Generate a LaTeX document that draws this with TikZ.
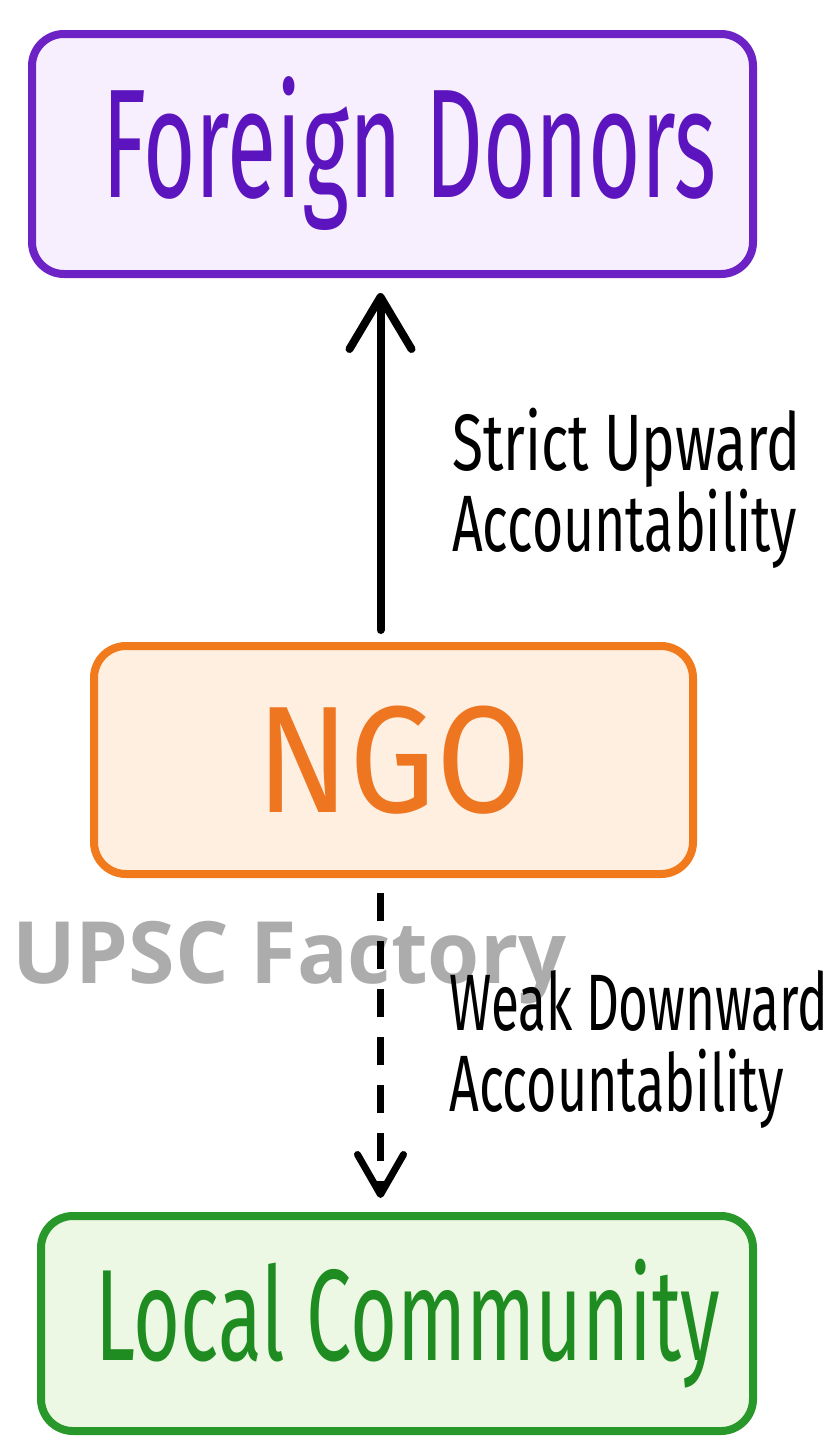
\documentclass[tikz,border=0pt]{standalone}
\usepackage{fontspec}
\usepackage{graphicx}
\usetikzlibrary{arrows.meta}
\newfontfamily\handfont{Fira Sans}
\newfontfamily\markfont{Open Sans}
\definecolor{donorline}{RGB}{108,34,196}
\definecolor{donorfill}{RGB}{247,239,253}
\definecolor{donortext}{RGB}{92,20,190}
\definecolor{ngoline}{RGB}{240,122,28}
\definecolor{ngofill}{RGB}{255,239,225}
\definecolor{ngotext}{RGB}{238,118,33}
\definecolor{commline}{RGB}{40,152,42}
\definecolor{commfill}{RGB}{236,248,228}
\definecolor{commtext}{RGB}{30,140,32}
\definecolor{markgray}{RGB}{172,172,172}
\newcommand{\squeeze}[2]{\scalebox{#1}[1]{#2}}
\tikzset{
  actorbox/.style={draw, line width=8pt, rounded corners=32pt, inner sep=0pt},
  flowlabel/.style={anchor=west, inner sep=0pt, align=left, font=\handfont\fontsize{80}{81}\selectfont},
  upflow/.style={line width=8pt, line cap=round, -{Straight Barb[length=52pt,width=62pt,round]}},
  downflow/.style={line width=7pt, dash pattern=on 28pt off 20pt, -{Straight Barb[length=40pt,width=46pt,round]}}
}
\begin{document}
\begin{tikzpicture}[x=1pt,y=1pt,yscale=-1]
\useasboundingbox (0,0) rectangle (834,1454);

% Boxes
\node [actorbox, draw=donorline, fill=donorfill, minimum width=721pt, minimum height=240pt,
  text=donortext, font=\handfont\fontsize{155}{155}\selectfont] (donors) at (392.5,154) {\hspace*{34pt}\squeeze{0.58}{Foreign Donors}};
\node [actorbox, draw=ngoline, fill=ngofill, minimum width=599pt, minimum height=228pt,
  text=ngotext, font=\handfont\fontsize{152}{152}\selectfont] (ngo) at (393.5,760) {\squeeze{0.9}{NGO}};
\node [actorbox, draw=commline, fill=commfill, minimum width=712pt, minimum height=215pt,
  text=commtext, font=\handfont\fontsize{130}{130}\selectfont] (community) at (397,1323.5) {\hspace*{22pt}\squeeze{0.62}{Local Community}};

% Watermark
\node [anchor=base west, inner sep=0pt, text=markgray, font=\markfont\bfseries\fontsize{86}{86}\selectfont] (mark) at (12,983) {\squeeze{0.98}{UPSC Factory}};

% Arrows
\draw [upflow, shorten <=12pt, shorten >=15pt] ([xshift=-13pt]ngo.north) -- ([xshift=-13pt]ngo.north |- donors.south);
\draw [downflow, shorten <=15pt, shorten >=14pt] ([xshift=-13pt]ngo.south) -- ([xshift=-13pt]ngo.south |- community.north);

% Text Node
\node [flowlabel] (uplabel) at (452,488) {\squeeze{0.71}{Strict Upward}\\\squeeze{0.67}{Accountability}};
% Text Node
\node [flowlabel] (downlabel) at (449,1050) {\squeeze{0.64}{Weak Downward}\\\squeeze{0.65}{Accountability}};

\end{tikzpicture}
\end{document}
